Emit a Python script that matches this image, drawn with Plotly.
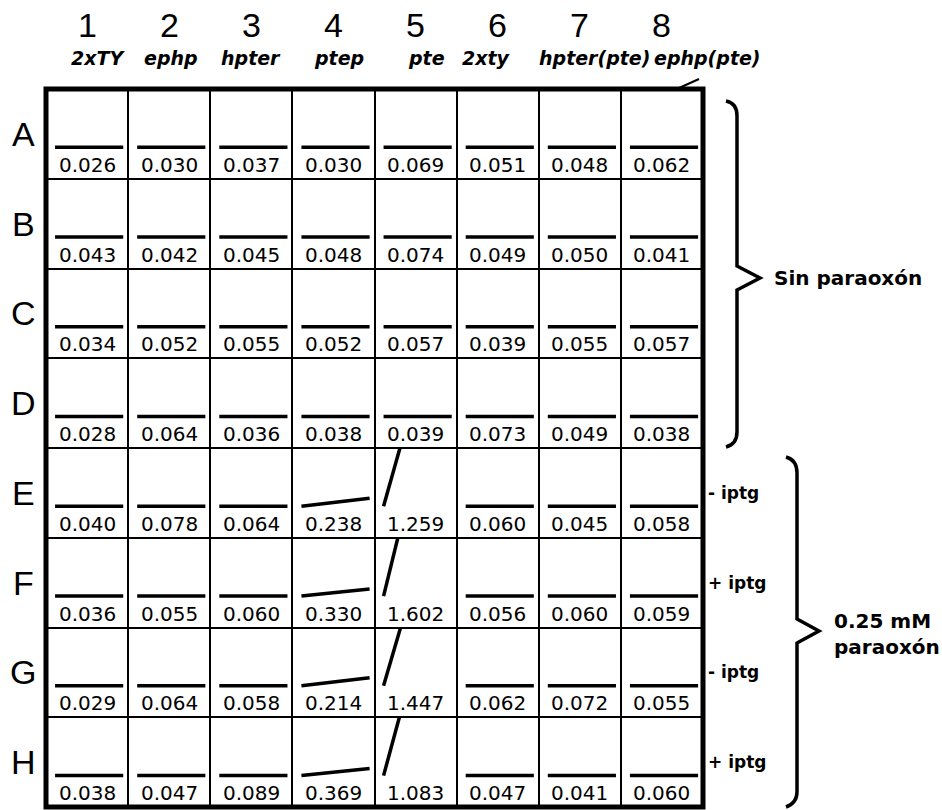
import plotly.graph_objects as go
from plotly.subplots import make_subplots

# ---------------- data ----------------
rows = ["A", "B", "C", "D", "E", "F", "G", "H"]
cols = ["1", "2", "3", "4", "5", "6", "7", "8"]
strains = ["2xTY", "ephp", "hpter", "ptep", "pte", "2xty", "hpter(pte)", "ephp(pte)"]

# displayed rate values per well (rows A-H, columns 1-8)
values = [
    ["0.026", "0.030", "0.037", "0.030", "0.069", "0.051", "0.048", "0.062"],
    ["0.043", "0.042", "0.045", "0.048", "0.074", "0.049", "0.050", "0.041"],
    ["0.034", "0.052", "0.055", "0.052", "0.057", "0.039", "0.055", "0.057"],
    ["0.028", "0.064", "0.036", "0.038", "0.039", "0.073", "0.049", "0.038"],
    ["0.040", "0.078", "0.064", "0.238", "1.259", "0.060", "0.045", "0.058"],
    ["0.036", "0.055", "0.060", "0.330", "1.602", "0.056", "0.060", "0.059"],
    ["0.029", "0.064", "0.058", "0.214", "1.447", "0.062", "0.072", "0.055"],
    ["0.038", "0.047", "0.089", "0.369", "1.083", "0.047", "0.041", "0.060"],
]

# kinetic read: relative time at first / last read
read_time = [0.0, 1.0]
# absorbance rise over the read (display units of each mini-plot)
rise = [
    [0, 0, 0, 0, 0, 0, 0, 0],
    [0, 0, 0, 0, 0, 0, 0, 0],
    [0, 0, 0, 0, 0, 0, 0, 0],
    [0, 0, 0, 0, 0, 0, 0, 0],
    [0, 0, 0, 0.09, 2.7, 0, 0, 0],
    [0, 0, 0, 0.08, 3.1, 0, 0, 0],
    [0, 0, 0, 0.09, 2.6, 0, 0, 0],
    [0, 0, 0, 0.08, 2.8, 0, 0, 0],
]

iptg_labels = ["- iptg", "+ iptg", "- iptg", "+ iptg"]
group_labels = ["Sin paraoxón", "0.25 mM<br>paraoxón"]

# ---------------- layout geometry ----------------
W, H = 942, 810
L, R, T, B = 46, 703, 89, 807


def px(x):
    return (x - L) / (R - L)


def py(y):
    return (B - y) / (B - T)


fig = make_subplots(rows=8, cols=8, horizontal_spacing=0, vertical_spacing=0)

for i in range(8):
    for j in range(8):
        fig.add_trace(
            go.Scatter(
                x=read_time,
                y=[0, rise[i][j]],
                mode="lines",
                line=dict(color="black", width=3.5),
                hoverinfo="skip",
                showlegend=False,
            ),
            row=i + 1,
            col=j + 1,
        )

fig.update_xaxes(range=[-0.133, 1.072], showticklabels=False, showgrid=False,
                 zeroline=False, showline=True, mirror=True, linecolor="black",
                 linewidth=1.4, ticks="", fixedrange=True)
fig.update_yaxes(range=[-0.35, 0.65], showticklabels=False, showgrid=False,
                 zeroline=False, showline=True, mirror=True, linecolor="black",
                 linewidth=1.4, ticks="", fixedrange=True)

annotations = []
VAL_FONT = dict(family="DejaVu Sans", size=20, color="black")
for i in range(8):
    for j in range(8):
        n = i * 8 + j + 1
        suffix = "" if n == 1 else str(n)
        annotations.append(dict(
            text=values[i][j], xref=f"x{suffix} domain", yref=f"y{suffix} domain",
            x=0.5, y=0.0, xanchor="center", yanchor="bottom", showarrow=False,
            font=VAL_FONT, borderpad=0, yshift=1,
        ))

BIG_FONT = dict(family="Liberation Sans", size=34, color="black")
for j, c in enumerate(cols):
    annotations.append(dict(text=c, xref="paper", yref="paper", x=(j + 0.5) / 8,
                            y=py(25), xanchor="center", yanchor="middle",
                            showarrow=False, font=BIG_FONT))

label_offsets = [11, 2, 0, 6, 11, -11, 15, 46]
for j, s in enumerate(strains):
    annotations.append(dict(text=f"<b><i>{s}</i></b>", xref="paper", yref="paper",
                            x=(j + 0.5) / 8 + label_offsets[j] / (R - L), y=py(58),
                            xanchor="center", yanchor="middle", showarrow=False,
                            font=dict(family="DejaVu Sans", size=19, color="black")))

for i, r in enumerate(rows):
    annotations.append(dict(text=r, xref="paper", yref="paper", x=px(23),
                            y=1 - (i + 0.5) / 8, xanchor="center", yanchor="middle",
                            showarrow=False, font=BIG_FONT))

for k, t in enumerate(iptg_labels):
    annotations.append(dict(text=f"<b>{t}</b>", xref="paper", yref="paper", x=px(706),
                            y=1 - (4 + k + 0.5) / 8, xanchor="left", yanchor="middle",
                            showarrow=False,
                            font=dict(family="DejaVu Sans", size=17, color="black")))

annotations.append(dict(text=f"<b>{group_labels[0]}</b>", xref="paper", yref="paper",
                        x=px(772), y=py(278), xanchor="left", yanchor="middle",
                        showarrow=False, align="left",
                        font=dict(family="DejaVu Sans", size=20, color="black")))
annotations.append(dict(text=f"<b>{group_labels[1]}</b>", xref="paper", yref="paper",
                        x=px(832), y=py(634), xanchor="left", yanchor="middle",
                        showarrow=False, align="left",
                        font=dict(family="DejaVu Sans", size=20, color="black")))


def path(points):
    out = []
    for cmd, pts in points:
        out.append(cmd + " " + " ".join(f"{px(x):.5f},{py(y):.5f}" for x, y in pts))
    return " ".join(out)


brace1 = path([("M", [(726, 101)]), ("Q", [(737, 103), (737, 116)]),
               ("L", [(737, 266)]), ("L", [(760, 278)]), ("L", [(737, 290)]),
               ("L", [(737, 432)]), ("Q", [(737, 444), (726, 447)])])
brace2 = path([("M", [(786, 457)]), ("Q", [(797, 460), (797, 473)]),
               ("L", [(797, 619)]), ("L", [(819, 631)]), ("L", [(797, 643)]),
               ("L", [(797, 792)]), ("Q", [(797, 803), (786, 807)])])

shapes = [
    dict(type="rect", xref="paper", yref="paper", x0=0, y0=0, x1=1, y1=1,
         line=dict(color="black", width=5)),
    dict(type="path", xref="paper", yref="paper", path=brace1,
         line=dict(color="black", width=3.5)),
    dict(type="path", xref="paper", yref="paper", path=brace2,
         line=dict(color="black", width=3.5)),
    dict(type="line", xref="paper", yref="paper", x0=px(679), y0=py(88),
         x1=px(699), y1=py(79), line=dict(color="black", width=2)),
]

fig.update_layout(
    width=W, height=H, autosize=False,
    margin=dict(l=L, r=W - R, t=T, b=H - B, pad=0),
    paper_bgcolor="white", plot_bgcolor="white",
    annotations=annotations, shapes=shapes, showlegend=False,
)

fig.write_html("out.html", config={"displayModeBar": False},
               post_script="document.body.style.margin='0';")
